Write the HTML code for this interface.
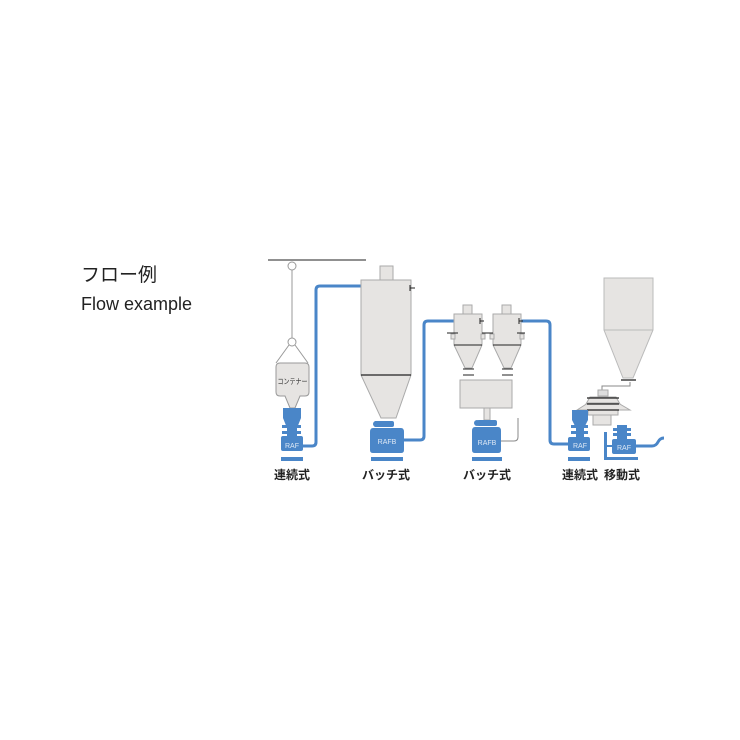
<!DOCTYPE html>
<html><head><meta charset="utf-8"><style>
html,body{margin:0;padding:0;background:#fff;}
svg{display:block;}
text{font-family:"Liberation Sans","Noto Sans CJK JP",sans-serif;}
</style></head><body>
<svg width="740" height="740" viewBox="0 0 740 740">
<text x="81" y="281" font-size="19" fill="#222">フロー例</text>
<text x="81" y="310" font-size="18" fill="#222">Flow example</text>

<g fill="none" stroke="#4a86c8" stroke-width="3" stroke-linejoin="round">
<path d="M302 446 H312 Q316 446 316 442 V290 Q316 286 320 286 H362"/>
<path d="M402 440 H420 Q424 440 424 436 V325 Q424 321 428 321 H455"/>
<path d="M520 321 H546 Q550 321 550 325 V440 Q550 444 554 444 H570"/>
<path d="M636 446 H652 Q656 446 658 442 Q660 438 664 438"/>
</g>

<line x1="268" y1="260" x2="366" y2="260" stroke="#222" stroke-width="1"/>
<circle cx="292" cy="266" r="4" fill="#fff" stroke="#999"/>
<line x1="292" y1="270" x2="292" y2="338" stroke="#999"/>
<circle cx="292" cy="342" r="4" fill="#fff" stroke="#999"/>
<path d="M289 345 L276 363 M295 345 L308 363" stroke="#999" fill="none"/>
<path d="M276 367 Q276 363 280 363 H305 Q309 363 309 367 V392 Q309 396 305 396 H300 L295 408 H290 L285 396 H280 Q276 396 276 392 Z" fill="#e6e4e2" stroke="#999"/>
<text x="292.5" y="384" font-size="7.5" text-anchor="middle" fill="#333" textLength="30" lengthAdjust="spacingAndGlyphs">コンテナー</text>
<g fill="#4a86c8">
<path d="M283 408 H301 V418 L297 428 H287 L283 418 Z"/>
<rect x="287" y="428" width="10" height="10"/>
<rect x="282" y="425" width="6" height="3"/><rect x="282" y="431" width="6" height="3"/>
<rect x="296" y="425" width="5" height="3"/><rect x="296" y="431" width="5" height="3"/>
<rect x="281" y="436" width="22" height="15" rx="2"/>
<rect x="281" y="457" width="22" height="4"/>
</g>
<text x="292" y="448" font-size="7" text-anchor="middle" fill="#dde8f5">RAF</text>

<rect x="380" y="266" width="13" height="14" fill="#e6e4e2" stroke="#aaa"/>
<path d="M361 280 H411 V375 L396 418 H381 L361 375 Z" fill="#e6e4e2" stroke="#aaa"/>
<line x1="361" y1="375" x2="411" y2="375" stroke="#222" stroke-width="1.3"/>
<path d="M410 285 V291 M410 288 H415" stroke="#222"/>
<g fill="#4a86c8">
<rect x="374" y="421" width="20" height="6" rx="2"/>
<circle cx="376" cy="424" r="3"/>
<path d="M373 428 H401 Q404 428 404 432 V450 Q404 453 401 453 H373 Q370 453 370 450 V432 Q370 428 373 428 Z"/>
<rect x="371" y="457" width="32" height="4"/>
</g>
<text x="387" y="444" font-size="7" text-anchor="middle" fill="#dde8f5">RAFB</text>

<g fill="#e6e4e2" stroke="#aaa">
<rect x="463" y="305" width="9" height="9"/>
<path d="M454 314 H482 V345 L472 368 H465 L454 345 Z"/>
<rect x="502" y="305" width="9" height="9"/>
<path d="M493 314 H521 V345 L511 368 H504 L493 345 Z"/>
<rect x="460" y="380" width="52" height="28"/>
<rect x="484" y="408" width="6" height="12"/>
<rect x="451" y="334" width="4" height="5"/><rect x="481" y="334" width="4" height="5"/>
<rect x="490" y="334" width="4" height="5"/><rect x="520" y="334" width="4" height="5"/>
</g>
<g stroke="#222" fill="none">
<line x1="454" y1="345" x2="482" y2="345"/><line x1="493" y1="345" x2="521" y2="345"/>
<line x1="447" y1="333" x2="458" y2="333"/><line x1="482" y1="333" x2="493" y2="333"/>
<line x1="517" y1="333" x2="525" y2="333"/>
<path d="M480 318 V324 M480 321 H484 M519 318 V324 M519 321 H523"/>
<line x1="463" y1="369" x2="474" y2="369"/><line x1="463" y1="375" x2="474" y2="375"/>
<line x1="502" y1="369" x2="513" y2="369"/><line x1="502" y1="375" x2="513" y2="375"/>
</g>
<path d="M499 441 H514 Q518 441 518 437 V418" stroke="#888" fill="none"/>
<g fill="#4a86c8">
<rect x="477" y="420" width="20" height="6" rx="2"/>
<circle cx="477" cy="423" r="3"/>
<path d="M475 427 H498 Q501 427 501 431 V450 Q501 453 498 453 H475 Q472 453 472 450 V431 Q472 427 475 427 Z"/>
<rect x="472" y="457" width="30" height="4"/>
</g>
<text x="487" y="445" font-size="7" text-anchor="middle" fill="#dde8f5">RAFB</text>

<path d="M604 278 H653 V330 L633 378 H623 L604 330 Z" fill="#e6e4e2" stroke="#bbb"/>
<line x1="604" y1="330" x2="653" y2="330" stroke="#bbb"/>
<line x1="621" y1="380" x2="636" y2="380" stroke="#222" stroke-width="1.3"/>
<path d="M630 382 V386 H602 V392" stroke="#888" fill="none"/>
<rect x="598" y="390" width="10" height="6" fill="#ddd" stroke="#aaa"/>
<path d="M590 397 H616 L620 404 H586 Z" fill="#e6e4e2" stroke="#aaa"/>
<path d="M577 410 L588 403 H618 L630 410 Z" fill="#e6e4e2" stroke="#aaa"/>
<rect x="588" y="410" width="30" height="5" fill="#e6e4e2" stroke="#aaa"/>
<rect x="593" y="415" width="18" height="10" fill="#e6e4e2" stroke="#aaa"/>
<g stroke="#222" stroke-width="1.2"><line x1="587" y1="398" x2="619" y2="398"/><line x1="587" y1="404" x2="619" y2="404"/><line x1="587" y1="410" x2="619" y2="410"/></g>

<g fill="#4a86c8">
<path d="M572 410 H588 V420 L584 428 H576 L572 420 Z"/>
<rect x="576" y="428" width="8" height="10"/>
<rect x="571" y="425" width="6" height="3"/><rect x="571" y="431" width="6" height="3"/>
<rect x="583" y="425" width="5" height="3"/><rect x="583" y="431" width="5" height="3"/>
<rect x="568" y="437" width="22" height="14" rx="2"/>
<rect x="568" y="457" width="22" height="4"/>
<rect x="617" y="425" width="10" height="14"/>
<rect x="613" y="428" width="5" height="3"/><rect x="613" y="433" width="5" height="3"/>
<rect x="626" y="428" width="5" height="3"/><rect x="626" y="433" width="5" height="3"/>
<rect x="612" y="439" width="24" height="15" rx="2"/>
<rect x="604" y="432" width="3" height="28"/>
<rect x="604" y="457" width="34" height="3"/>
<rect x="607" y="445" width="6" height="2"/>
</g>
<text x="580" y="448" font-size="7" text-anchor="middle" fill="#dde8f5">RAF</text>
<text x="624" y="450" font-size="7" text-anchor="middle" fill="#dde8f5">RAF</text>

<g font-size="12" font-weight="bold" fill="#222" text-anchor="middle">
<text x="292" y="479">連続式</text>
<text x="386" y="479">バッチ式</text>
<text x="487" y="479">バッチ式</text>
<text x="580" y="479">連続式</text>
<text x="622" y="479">移動式</text>
</g>
</svg>
</body></html>
